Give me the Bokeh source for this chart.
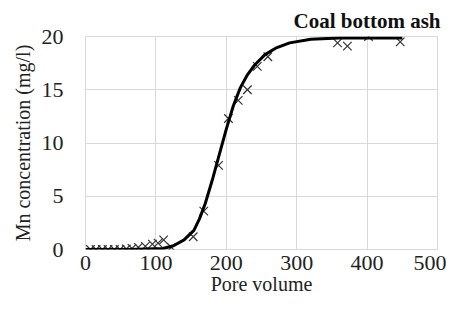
from bokeh.plotting import figure
from bokeh.models import Range1d, FixedTicker
from bokeh.embed import file_html
from bokeh.resources import INLINE

# measured points (pore volume, Mn mg/l)
pv_obs = [7, 15, 24, 32, 41, 49, 58, 66, 75, 85, 95, 103, 111, 122,
          153, 168, 189, 203, 217, 230, 244, 259, 358, 372, 402, 447]
mn_obs = [0, 0, 0, 0, 0, 0, 0.05, 0.1, 0.2, 0.3, 0.5, 0.6, 0.9, 0.2,
          1.2, 3.6, 7.9, 12.3, 14.0, 15.0, 17.2, 18.1, 19.4, 19.1, 20.0, 19.5]

# fitted curve
pv_fit = [0, 60, 110, 125, 140, 154, 162, 170, 180, 190, 200, 210, 220,
          230, 240, 255, 270, 290, 320, 360, 450]
mn_fit = [0, 0, 0.1, 0.35, 0.9, 1.8, 2.9, 4.3, 6.5, 8.9, 11.3, 13.5, 15.2,
          16.4, 17.3, 18.3, 18.9, 19.4, 19.75, 19.85, 19.85]

x_ticks = [0, 100, 200, 300, 400, 500]
y_ticks = [0, 5, 10, 15, 20]
title_text = "Coal bottom ash"

FONT = "Liberation Serif"
GRID = "#d9d9d9"

p = figure(width=446, height=306, output_backend="svg", toolbar_location=None,
           x_range=Range1d(0, 500), y_range=Range1d(0, 20),
           min_border_left=85, min_border_right=9, min_border_top=36,
           min_border_bottom=57)
p.outline_line_color = GRID
p.background_fill_color = "white"
p.border_fill_color = "white"

p.title.text = title_text
p.title.align = "right"
p.title.offset = -3
p.title.text_font = FONT
p.title.text_font_size = "21px"
p.title.text_font_style = "bold"
p.title.text_color = "#111111"
p.title.standoff = 7

for ax in (p.xaxis[0], p.yaxis[0]):
    ax.axis_line_color = None
    ax.major_tick_line_color = None
    ax.minor_tick_line_color = None
    ax.major_tick_out = 0
    ax.major_tick_in = 0
    ax.minor_tick_out = 0
    ax.minor_tick_in = 0
    ax.major_label_text_font = FONT
    ax.major_label_text_font_size = "22px"
    ax.major_label_text_color = "#222222"
    ax.axis_label_text_font = FONT
    ax.axis_label_text_font_size = "20px"
    ax.axis_label_text_font_style = "normal"
    ax.axis_label_text_color = "#222222"

p.xaxis[0].ticker = FixedTicker(ticks=x_ticks)
p.yaxis[0].ticker = FixedTicker(ticks=y_ticks)
p.xaxis[0].major_label_standoff = 6
p.xaxis[0].axis_label_standoff = 0
p.yaxis[0].major_label_standoff = 22
p.yaxis[0].axis_label_standoff = 5
p.xaxis[0].axis_label = "Pore volume"
p.yaxis[0].axis_label = "Mn concentration (mg/l)"

p.xgrid.grid_line_color = GRID
p.ygrid.grid_line_color = GRID
p.xgrid.ticker = FixedTicker(ticks=x_ticks)
p.ygrid.ticker = FixedTicker(ticks=y_ticks)

p.scatter(pv_obs, mn_obs, marker="x", size=12, line_color="#333333", line_width=1.2)
p.line(pv_fit, mn_fit, line_color="black", line_width=3)

open("out.html", "w").write(file_html(p, INLINE))
